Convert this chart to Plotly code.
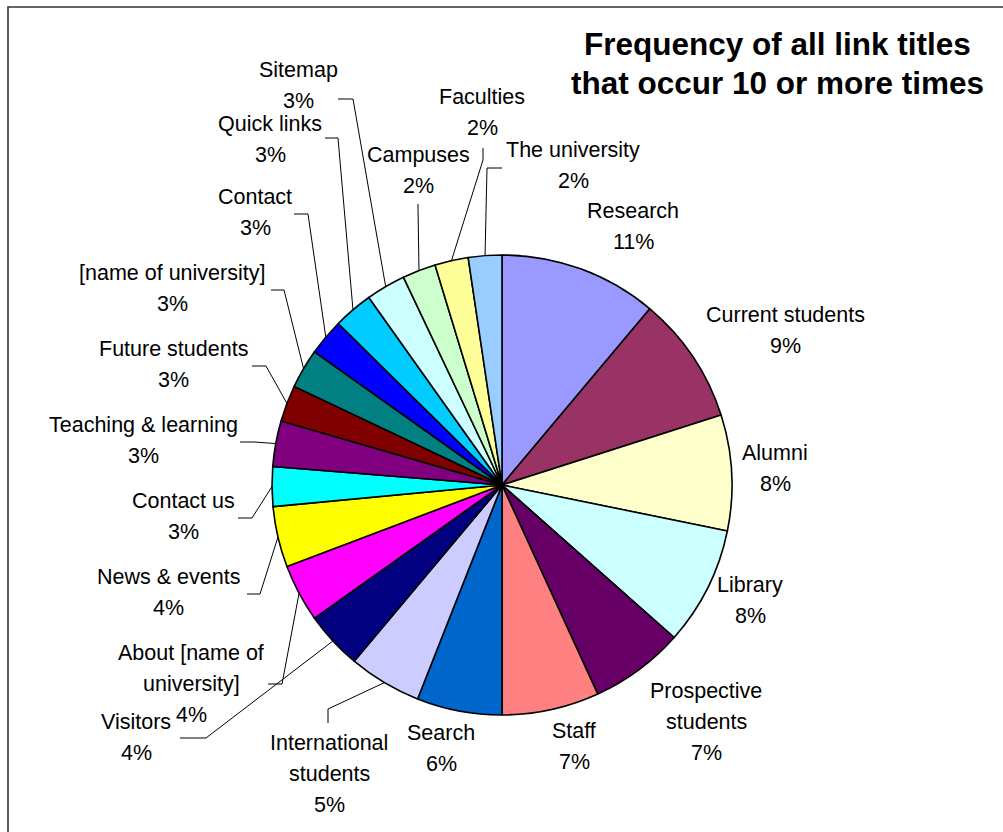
import plotly.graph_objects as go
import math

# Link titles (clockwise from 12 o'clock) and how often each occurs
titles = [
    "Research", "Current students", "Alumni", "Library", "Prospective students",
    "Staff", "Search", "International students", "Visitors",
    "About [name of university]", "News & events", "Contact us",
    "Teaching & learning", "Future students", "[name of university]", "Contact",
    "Quick links", "Sitemap", "Campuses", "Faculties", "The university",
]
counts = [52, 42, 38, 39, 31, 32, 28, 24, 19, 19, 20, 13, 15, 12, 13, 12, 13, 13, 11, 11, 11]

# How each label is broken over lines
label_lines = [
    ["Research"], ["Current students"], ["Alumni"], ["Library"], ["Prospective", "students"],
    ["Staff"], ["Search"], ["International", "students"], ["Visitors"],
    ["About [name of", "university]"], ["News & events"], ["Contact us"],
    ["Teaching & learning"], ["Future students"], ["[name of university]"], ["Contact"],
    ["Quick links"], ["Sitemap"], ["Campuses"], ["Faculties"], ["The university"],
]

colors = [
    "#9999FF", "#993366", "#FFFFCC", "#CCFFFF", "#660066",
    "#FF8080", "#0066CC", "#CCCCFF", "#000080", "#FF00FF",
    "#FFFF00", "#00FFFF", "#800080", "#800000", "#008080",
    "#0000FF", "#00CCFF", "#CCFFFF", "#CCFFCC", "#FFFF99", "#99CCFF",
]

# ---- layout geometry (pixels) ----
W, H = 1003, 832
CX, CY, R = 502, 485, 230
LINE_GAP = 31

# centre of first text line for each label
label_pos = [
    (633, 211), (785, 315), (775, 453), (750, 585), (706, 691),
    (574, 731), (441, 733), (329, 743), (136, 722), (191, 653),
    (168, 577), (183, 501), (143, 425), (173, 349), (172, 273),
    (255, 197), (270, 124), (298, 70), (418, 155), (482, 97), (573, 150),
]

# leader line: (end near label, elbow); None = no leader
leaders = [
    None, None, None, None, None,
    None, None, ((328, 723), (328, 709)), ((180, 738), (206, 738)), ((268, 684), (282, 684)),
    ((247, 594), (260, 594)), ((238, 518), (252, 518)), ((240, 442), (254, 442)),
    ((252, 366), (266, 366)), ((271, 290), (284, 290)), ((294, 214), (308, 214)),
    ((325, 138), (338, 138)), ((338, 99), (353, 99)), ((418, 204), (418, 208)),
    ((483, 148), (483, 160)), ((502, 168), (487, 168)),
]

FONT = "Liberation Sans, Arial, sans-serif"


def px(x):
    return x / W


def py(y):
    return 1 - y / H


fig = go.Figure(go.Pie(
    values=counts,
    labels=titles,
    sort=False,
    direction="clockwise",
    rotation=0,
    textinfo="none",
    hoverinfo="label+percent",
    marker=dict(colors=colors, line=dict(color="#000000", width=1.6)),
    domain=dict(x=[px(CX - R), px(CX + R)], y=[py(CY + R), py(CY - R)]),
    showlegend=False,
))

total = sum(counts)
annotations = []
shapes = []
cum = 0
for name, v, lines, (lx, ly), lead in zip(titles, counts, label_lines, label_pos, leaders):
    pct = round(100 * v / total)
    mid = 2 * math.pi * (cum + v / 2) / total
    cum += v
    for i, t in enumerate(lines + [f"{pct}%"]):
        annotations.append(dict(
            x=px(lx), y=py(ly + i * LINE_GAP), xref="paper", yref="paper",
            text=t, showarrow=False, xanchor="center", yanchor="middle",
            font=dict(family=FONT, size=21.5, color="#000000"),
        ))
    if lead is not None:
        (ex, ey), (bx, by) = lead
        sx = CX + R * math.sin(mid)
        sy = CY - R * math.cos(mid)
        path = f"M {px(ex)},{py(ey)} L {px(bx)},{py(by)} L {px(sx)},{py(sy)}"
        shapes.append(dict(type="path", path=path, xref="paper", yref="paper",
                           line=dict(color="#000000", width=1)))

# Title
for i, t in enumerate(["Frequency of all link titles", "that occur 10 or more times"]):
    annotations.append(dict(
        x=px(777), y=py(44 + i * 39), xref="paper", yref="paper",
        text=f"<b>{t}</b>", showarrow=False, xanchor="center", yanchor="middle",
        font=dict(family=FONT, size=31.5, color="#000000"),
    ))

# Chart frame
shapes.append(dict(type="rect", xref="paper", yref="paper",
                   x0=px(8), x1=px(1012), y0=py(845), y1=py(7),
                   line=dict(color="#333333", width=1.6), fillcolor="rgba(0,0,0,0)"))

fig.update_layout(
    width=W, height=H,
    margin=dict(l=0, r=0, t=0, b=0),
    paper_bgcolor="white", plot_bgcolor="white",
    annotations=annotations, shapes=shapes,
)

fig.write_html("out.html")
